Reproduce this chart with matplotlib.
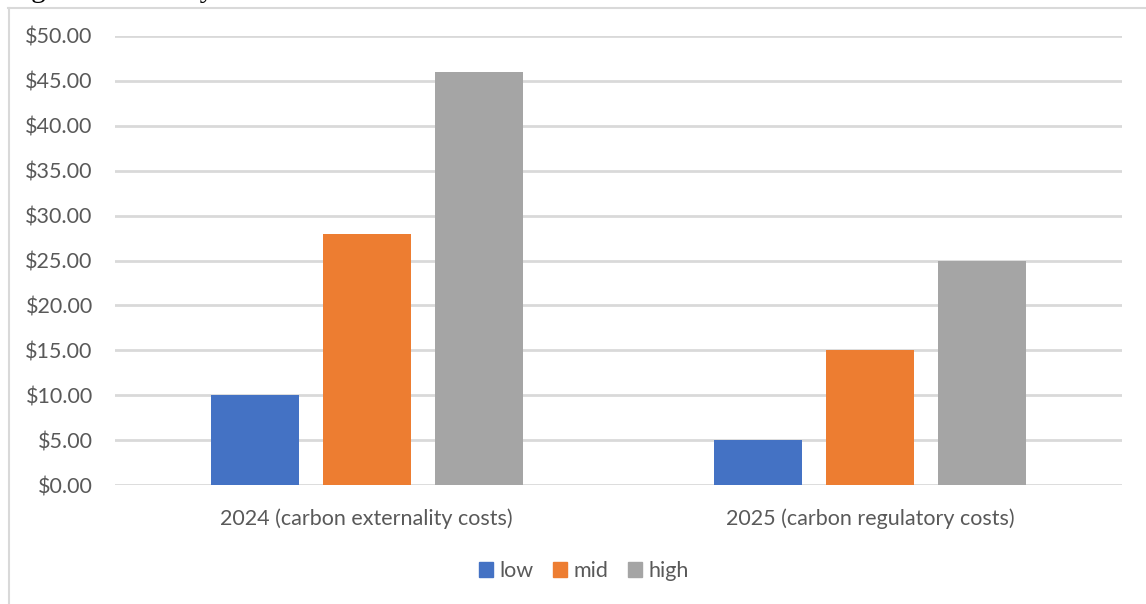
import numpy as np
import matplotlib.pyplot as plt
from matplotlib.patches import Patch
from matplotlib.lines import Line2D

categories = ["2024 (carbon externality costs)", "2025 (carbon regulatory costs)"]
series_names = ["low", "mid", "high"]
low = [10, 5]
mid = [28, 15]
high = [46, 25]
colors = ["#4472c4", "#ed7d31", "#a5a5a5"]
y_ticks = [0, 5, 10, 15, 20, 25, 30, 35, 40, 45, 50]

W, H = 1146, 604
font = ["Lato", "DejaVu Sans"]
grey_txt = "#595959"
grid_col = "#d9d9d9"

fig = plt.figure(figsize=(W / 100, H / 100), dpi=100)
plt.rcParams['font.family'] = font

# outer chart frame (only top and left edges are visible in the crop)
fig.add_artist(Line2D([8 / W, 1], [1 - 8 / H, 1 - 8 / H], color=grid_col, lw=1.5))
fig.add_artist(Line2D([9 / W, 9 / W], [0, 1 - 8 / H], color=grid_col, lw=1.5))

# caption text cut off at the top of the screenshot
fig.text(2 / W, 1 + 3 / H, "Higher externality costs.", family="Liberation Serif",
         fontsize=21, va="baseline", ha="left", color="black")

ax = fig.add_axes([115 / W, 1 - 485 / H, (1122 - 115) / W, (485 - 36) / H])

x = np.arange(len(categories))
width = 0.175
step = 0.2225
for i, (name, vals) in enumerate(zip(series_names, [low, mid, high])):
    ax.bar(x + (i - 1) * step, vals, width, color=colors[i], label=name, zorder=3)

ax.set_xlim(-0.5, 1.5)
ax.set_ylim(0, 50)
ax.set_yticks(y_ticks)
ax.set_yticklabels([f"${v:.2f}" for v in y_ticks])
ax.set_xticks(x)
ax.set_xticklabels(categories)
ax.tick_params(axis="both", length=0, labelsize=15.5, colors=grey_txt)
ax.tick_params(axis="y", pad=16)
ax.tick_params(axis="x", pad=16.5)
ax.grid(axis="y", color=grid_col, lw=2, zorder=0)
ax.set_axisbelow(True)
for s in ax.spines.values():
    s.set_visible(False)

handles = [Patch(color=c) for c in colors]
fig.legend(handles, series_names, loc="center", bbox_to_anchor=(584 / W, 1 - 571 / H),
           ncol=3, frameon=False, fontsize=15.5, handlelength=0.65, handleheight=0.65,
           handletextpad=0.3, columnspacing=0.9, labelcolor=grey_txt)

fig.savefig("out.png", dpi=100)
